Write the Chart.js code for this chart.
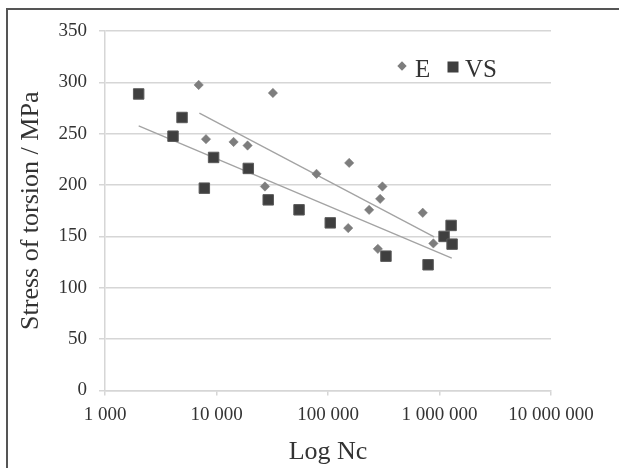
<!DOCTYPE html>
<html>
<head>
<meta charset="utf-8">
<script src="https://cdn.jsdelivr.net/npm/chart.js@4.4.1/dist/chart.umd.min.js"></script>
<style>
  html, body { margin: 0; padding: 0; background: #fff; }
  #wrap { width: 619px; height: 468px; position: relative; }
</style>
</head>
<body>
<div id="wrap"><canvas id="chart" width="619" height="468"></canvas></div>
<script>
// series E (diamonds)
const eCycles = [6920, 32060, 8050, 14230, 19000, 27200, 78900, 154900, 151800, 233900, 293700, 307600, 280000, 707400, 881000];
const eStress = [297.5, 289.7, 244.7, 242, 238.5, 198.6, 210.9, 221.6, 158.1, 175.9, 186.6, 198.6, 137.9, 173, 143.2];

// series VS (squares)
const vsCycles = [2004, 4074, 4910, 7780, 9420, 19280, 29100, 55000, 104800, 331000, 790000, 1099000, 1271000, 1297000];
const vsStress = [288.7, 247.6, 265.8, 197, 226.9, 216.2, 185.6, 175.9, 163.2, 130.8, 122.4, 150, 160.7, 142.5];

// trend line end points
const eTrendX = [7020, 895000];
const eTrendY = [270, 149.5];
const vsTrendX = [2005, 1288000];
const vsTrendY = [257.6, 128.9];

const xTicks = [1000, 10000, 100000, 1000000, 10000000];
const yTicks = [0, 50, 100, 150, 200, 250, 300, 350];

const serif = '"Liberation Serif", "DejaVu Serif", serif';
const gridColor = '#d6d6d6';
const textColor = '#333333';
const eColor = '#7d7d7d';
const vsColor = '#3f3f3f';

function toPoints(xs, ys) {
    return xs.map((x, i) => ({ x: x, y: ys[i] }));
}

function spaced(v) {
    return String(v).replace(/\B(?=(\d{3})+(?!\d))/g, ' ');
}

// frame round the figure + legend drawn inside plot
const framePlugin = {
    id: 'frame',
    beforeDraw(chart) {
        const ctx = chart.ctx;
        ctx.save();
        ctx.fillStyle = '#fff';
        ctx.fillRect(0, 0, chart.width, chart.height);
        ctx.strokeStyle = '#555';
        ctx.lineWidth = 2;
        ctx.beginPath();
        ctx.moveTo(7, chart.height);
        ctx.lineTo(7, 9);
        ctx.lineTo(chart.width, 9);
        ctx.stroke();
        ctx.restore();
    },
    afterDraw(chart) {
        const ctx = chart.ctx;
        const ds = chart.data.datasets;
        ctx.save();
        ctx.font = '25px ' + serif;
        ctx.fillStyle = textColor;
        ctx.textBaseline = 'alphabetic';

        // E
        ctx.fillStyle = eColor;
        ctx.beginPath();
        ctx.moveTo(402, 61.3);
        ctx.lineTo(406.7, 66);
        ctx.lineTo(402, 70.7);
        ctx.lineTo(397.3, 66);
        ctx.closePath();
        ctx.fill();
        ctx.fillStyle = textColor;
        ctx.fillText(ds[0].label, 415, 77);

        // VS
        ctx.fillStyle = vsColor;
        ctx.fillRect(447.5, 61.5, 11, 11);
        ctx.fillStyle = textColor;
        ctx.fillText(ds[1].label, 465, 77);
        ctx.restore();
    }
};

new Chart(document.getElementById('chart'), {
    type: 'scatter',
    data: {
        datasets: [
            {
                label: 'E',
                data: toPoints(eCycles, eStress),
                pointStyle: 'rectRot',
                pointRadius: 4.7,
                pointHoverRadius: 4.7,
                backgroundColor: eColor,
                borderColor: eColor,
                borderWidth: 0.5,
                order: 0
            },
            {
                label: 'VS',
                data: toPoints(vsCycles, vsStress),
                pointStyle: 'rect',
                pointRadius: 7.4,
                pointHoverRadius: 7.4,
                backgroundColor: vsColor,
                borderColor: '#5a5a5a',
                borderWidth: 1,
                order: 0
            },
            {
                label: 'E trend',
                type: 'line',
                data: toPoints(eTrendX, eTrendY),
                borderColor: '#a3a3a3',
                borderWidth: 1.3,
                pointRadius: 0,
                fill: false,
                order: 1
            },
            {
                label: 'VS trend',
                type: 'line',
                data: toPoints(vsTrendX, vsTrendY),
                borderColor: '#a3a3a3',
                borderWidth: 1.3,
                pointRadius: 0,
                fill: false,
                order: 1
            }
        ]
    },
    options: {
        responsive: false,
        animation: false,
        events: [],
        layout: { padding: { top: 31, right: 68, left: 0, bottom: 0 } },
        plugins: {
            legend: { display: false },
            tooltip: { enabled: false }
        },
        scales: {
            x: {
                type: 'logarithmic',
                min: 1000,
                max: 10000000,
                afterBuildTicks: scale => {
                    scale.ticks = xTicks.map(v => ({ value: v }));
                },
                afterFit: scale => { scale.height = 77.5; },
                grid: {
                    drawOnChartArea: false,
                    drawTicks: true,
                    tickLength: 5,
                    color: gridColor,
                    lineWidth: 1.5
                },
                border: { color: gridColor, width: 1.5 },
                ticks: {
                    autoSkip: false,
                    maxRotation: 0,
                    padding: 8,
                    color: textColor,
                    font: { family: serif, size: 19 },
                    callback: v => spaced(v)
                },
                title: {
                    display: true,
                    text: 'Log Nc',
                    color: textColor,
                    font: { family: serif, size: 26 },
                    padding: { top: 0, bottom: 0 }
                }
            },
            y: {
                min: 0,
                max: 350,
                afterBuildTicks: scale => {
                    scale.ticks = yTicks.map(v => ({ value: v }));
                },
                afterFit: scale => { scale.width = 105; },
                grid: {
                    color: gridColor,
                    lineWidth: 1.5,
                    tickLength: 6
                },
                border: { color: gridColor, width: 1.5 },
                ticks: {
                    padding: 12,
                    color: textColor,
                    font: { family: serif, size: 19 }
                },
                title: {
                    display: true,
                    text: 'Stress of torsion / MPa',
                    color: textColor,
                    font: { family: serif, size: 26 },
                    padding: { top: 16, bottom: 0 }
                }
            }
        }
    },
    plugins: [framePlugin]
});
</script>
</body>
</html>
